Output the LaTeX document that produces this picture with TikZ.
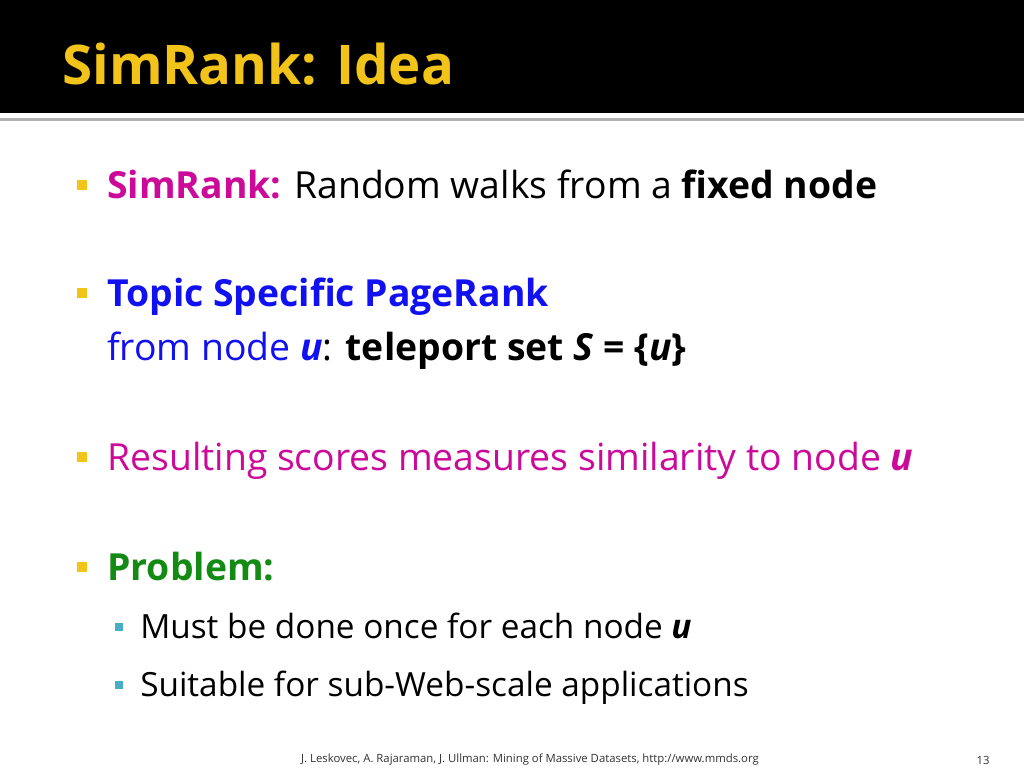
\documentclass[tikz,border=0pt]{standalone}
\usepackage{fontspec}
\setmainfont{Open Sans}
\definecolor{gold}{HTML}{F2C318}
\definecolor{pink}{HTML}{CC0A99}
\definecolor{topicblue}{HTML}{1010F0}
\definecolor{probgreen}{HTML}{138A13}
\definecolor{teal}{HTML}{4BACC6}
\tikzset{
  body/.style={anchor=base west, inner sep=0pt, font=\fontsize{28}{33}\selectfont},
  subbody/.style={anchor=base west, inner sep=0pt, font=\fontsize{25}{30}\selectfont},
  bullet/.style={fill=gold, minimum size=7.5pt, inner sep=0pt},
  subbullet/.style={fill=teal, minimum size=6.5pt, inner sep=0pt}
}
\begin{document}
\begin{tikzpicture}[x=0.75pt, y=-0.75pt]
\useasboundingbox (0,0) rectangle (1024,768);
\fill[white] (0,0) rectangle (1024,768);
% header band
\fill[black] (0,0) rectangle (1024,113);
\fill[gray!60] (0,118) rectangle (1024,121);
\node[anchor=base west, inner sep=0pt, text=gold, font=\bfseries\fontsize{41}{48}\selectfont] (title) at (62,84) {SimRank: Idea};

% bullets
\node[bullet] (b1) at (82,185) {};
\node[body] (t1) at (107,198) {\textbf{\textcolor{pink}{SimRank:}} Random walks from a \textbf{fixed node}};

\node[bullet] (b2) at (82,293) {};
\node[body, text=topicblue] (t2) at (107,306) {\textbf{Topic Specific PageRank}};
\node[body] (t3) at (107,360) {\textcolor{topicblue}{from node \textbf{\textit{u}}}: \textbf{teleport set \textit{S} = \{\textit{u}\}}};

\node[bullet] (b3) at (82,457) {};
\node[body, text=pink] (t4) at (107,470) {Resulting scores measures similarity to node \textbf{\textit{u}}};

\node[bullet] (b4) at (82,567) {};
\node[body, text=probgreen] (t5) at (107,580) {\textbf{Problem:}};

\node[subbullet] (s1) at (119,627) {};
\node[subbody] (t6) at (140,638) {Must be done once for each node \textbf{\textit{u}}};
\node[subbullet] (s2) at (119,685) {};
\node[subbody] (t7) at (140,696) {Suitable for sub-Web-scale applications};

% footer
\node[inner sep=0pt, font=\fontsize{8.5}{10}\selectfont, text=black!80] (foot) at (530,760) {J. Leskovec, A. Rajaraman, J. Ullman: Mining of Massive Datasets, http://www.mmds.org};
\node[inner sep=0pt, font=\fontsize{8.5}{10}\selectfont, text=black!80] (page) at (983,760) {13};
\end{tikzpicture}
\end{document}
